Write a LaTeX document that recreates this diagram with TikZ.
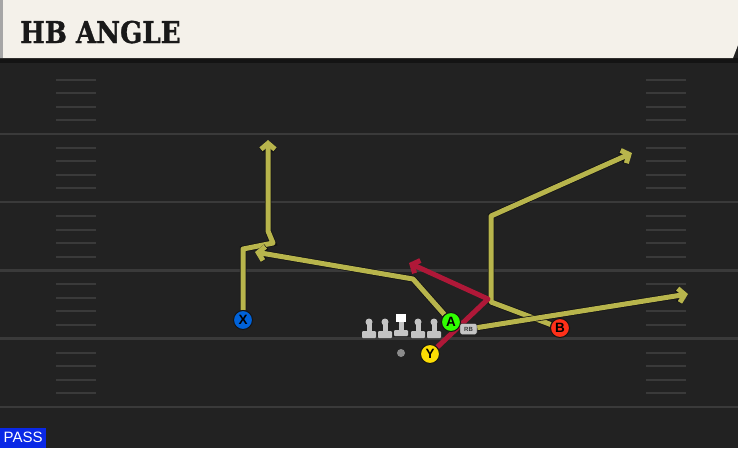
\documentclass[tikz,border=0pt]{standalone}
\usepackage{fontspec}
\usepackage{graphicx}
\setmainfont{Liberation Sans}
\newfontfamily\titlefont{DejaVu Serif}[BoldFeatures={FakeBold=1.2}]
\usetikzlibrary{arrows.meta,backgrounds}

\begin{document}
\begin{tikzpicture}[x=1pt,y=-1pt,
    route/.style={draw=kRoute,line width=5pt,line join=round,
      preaction={draw=kOutline,line width=6.5pt}},
    block/.style={draw=kBlock,line width=5pt,line join=round},
    tip/.style={-{Straight Barb[length=6pt,width=14pt]}},
    player/.style={circle,draw=kOutline,line width=1pt,inner sep=0pt,
      minimum size=19pt,font=\bfseries\fontsize{13.5}{13.5}\selectfont}]
  \definecolor{kField}{HTML}{222222}
  \definecolor{kLine}{HTML}{3A3A3A}
  \definecolor{kCream}{HTML}{F4F1EA}
  \definecolor{kRoute}{HTML}{B8B54C}
  \definecolor{kBlock}{HTML}{AF1838}
  \definecolor{kOutline}{HTML}{141414}
  \definecolor{kMan}{HTML}{C4C4C4}
  \definecolor{kPass}{HTML}{0A28E6}
  \useasboundingbox (0,0) rectangle (738,448);

  \begin{scope}[on background layer]
    % field
    \fill[kField] (0,0) rectangle (738,448);
    \foreach \k in {1,...,5}
      \draw[kLine,line width=2.5pt] (0,65.5+68.3*\k) -- (738,65.5+68.3*\k);
    \foreach \k in {0,...,4}
      \foreach \d in {14,27.5,41,54.5}
      {
        \draw[kLine,line width=2pt] (56,65.5+68.3*\k+\d) -- (96,65.5+68.3*\k+\d);
        \draw[kLine,line width=2pt] (646,65.5+68.3*\k+\d) -- (686,65.5+68.3*\k+\d);
      }

    % header
    \fill[kOutline] (0,58) rectangle (738,63);
    \fill[kCream] (0,0) -- (738,0) -- (738,45) -- (733,58) -- (0,58) -- cycle;
    \fill[black!35] (0,0) rectangle (3,58);
  \end{scope}

  \node[anchor=base west,inner sep=0pt,text=black!90] (title) at (20,43)
    {\scalebox{0.87}[1]{\titlefont\bfseries\fontsize{30}{30}\selectfont HB ANGLE}};
  \node[anchor=south west,fill=kPass,text=white,inner sep=0pt,
    minimum width=46pt,minimum height=20pt,font=\fontsize{15}{15}\selectfont]
    (pass) at (0,448) {PASS};

  % line
  \foreach \x in {369,385,418,434}
  {
    \fill[kMan] (\x,322) circle (3.5pt);
    \fill[kMan] (\x-2.5,322) rectangle (\x+2.5,332);
    \fill[kMan,rounded corners=1pt] (\x-7,331) rectangle (\x+7,338);
  }
  \fill[white] (396,314) rectangle (406,322);
  \fill[kMan] (398.5,322) rectangle (403.5,331);
  \fill[kMan,rounded corners=1pt] (394,330) rectangle (408,336);
  \fill[black!45] (401,353) circle (4pt);

  % players
  \node[player,fill=blue!55!cyan!85!black] (X) at (243,320) {X};
  \node[player,fill=green!75!lime] (A) at (451,322) {A};
  \node[player,fill=red!80!orange!90] (B) at (560,328) {B};
  \node[player,fill=yellow!80!orange] (Y) at (430,354) {Y};
  \node[draw=kOutline,fill=kMan,rounded corners=2pt,inner sep=0pt,
    minimum width=17pt,minimum height=11pt,text=black!80,
    font=\bfseries\fontsize{6}{6}\selectfont] (RB) at (468.5,329) {RB};

  \coordinate (x1) at (243,249);
  \coordinate (x2) at (273,243);
  \coordinate (x3) at (268,231);
  \coordinate (x4) at (268,140);
  \coordinate (a1) at (413,279);
  \coordinate (a2) at (255,252);
  \coordinate (b1) at (491,302);
  \coordinate (b2) at (491,216);
  \coordinate (b3) at (632,153);
  \coordinate (r1) at (688,294);
  \coordinate (y1) at (488,299);
  \coordinate (y2) at (409,263);

  \begin{scope}[on background layer]
    % routes
    \draw[route,tip] (X) -- (x1) -- (x2) -- (x3) -- (x4);
    \draw[route,tip] (A) -- (a1) -- (a2);
    \draw[route,tip] (B) -- (b1) -- (b2) -- (b3);
    \draw[route,tip] (RB) -- (r1);
    \draw[block,tip] (Y) -- (y1) -- (y2);
  \end{scope}
\end{tikzpicture}
\end{document}
